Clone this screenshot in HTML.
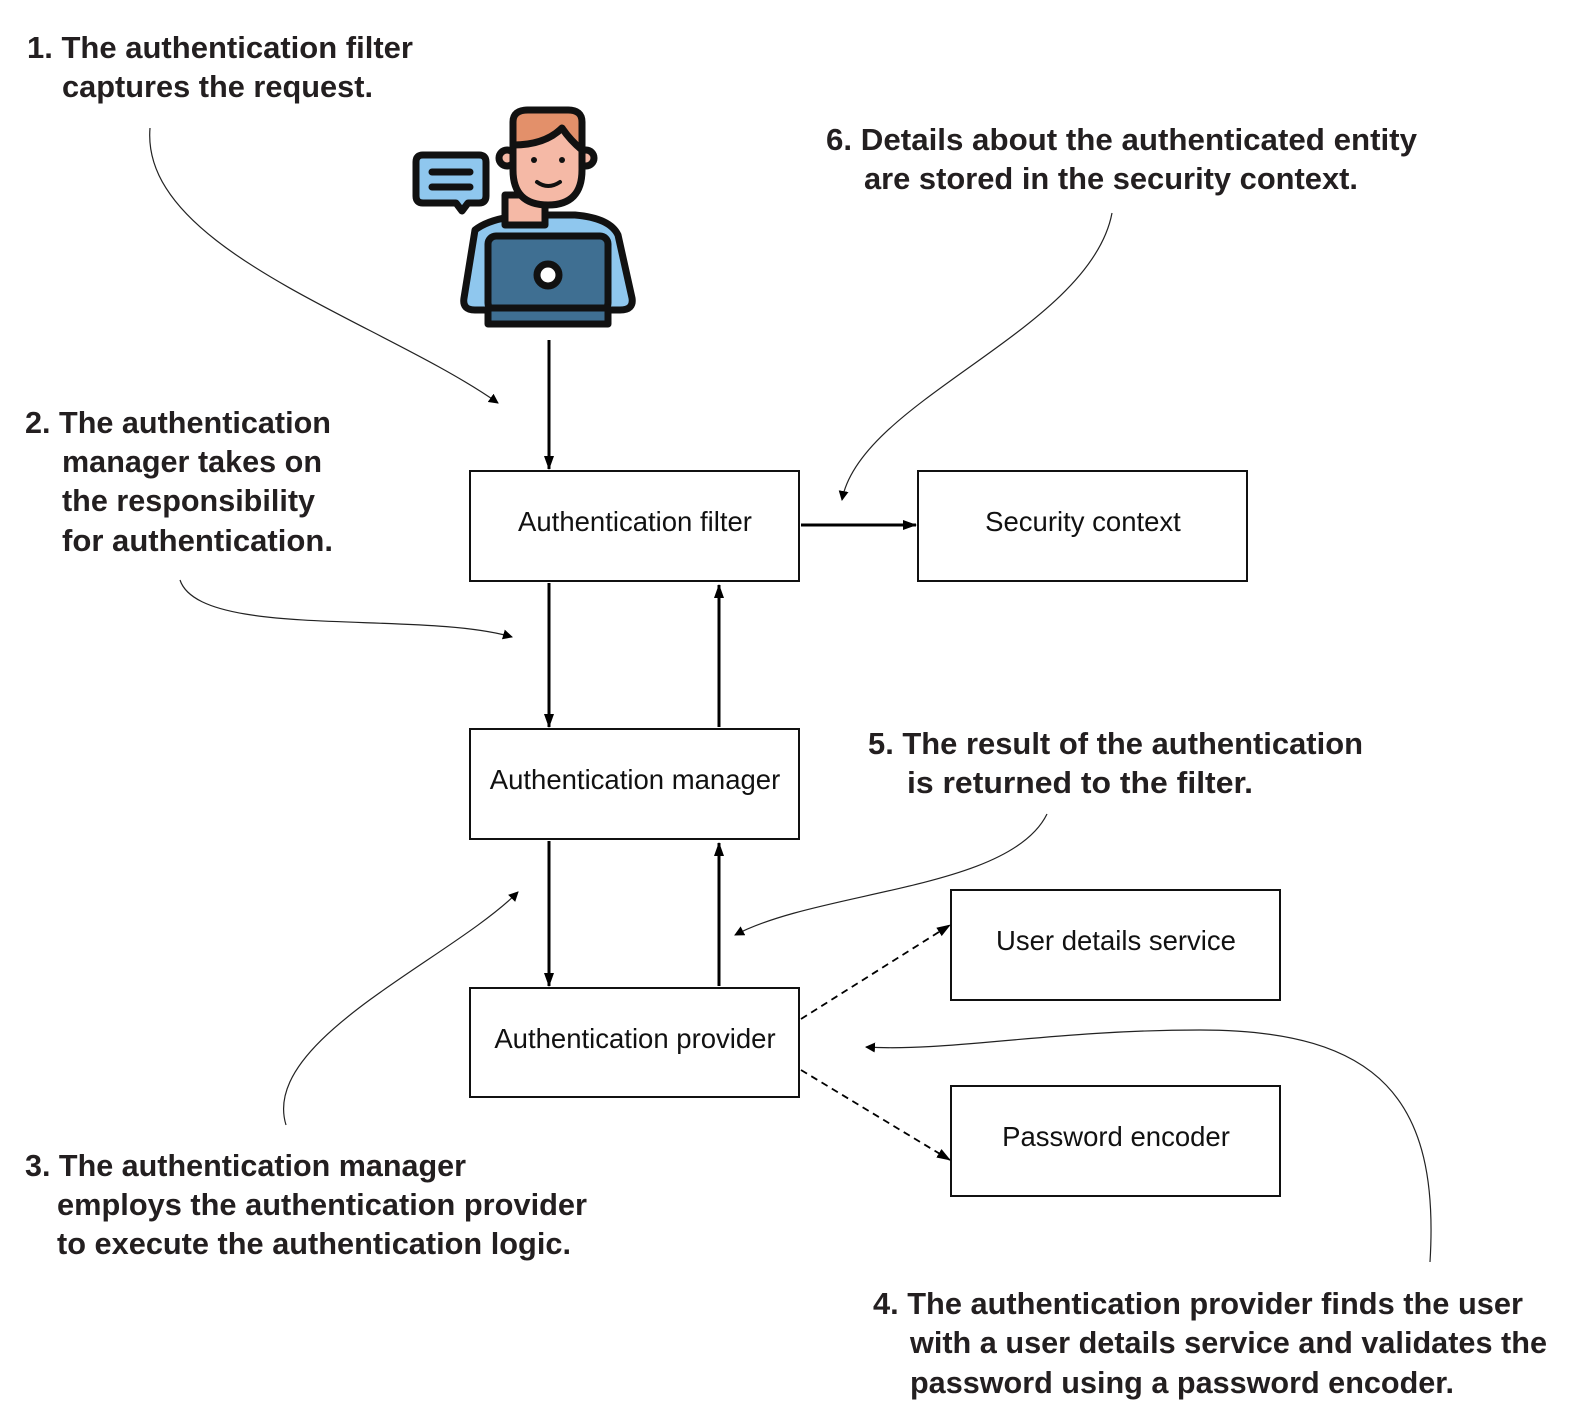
<!DOCTYPE html>
<html><head><meta charset="utf-8"><style>
html,body{margin:0;padding:0;background:#fff}
svg{display:block}
.t{font-family:"Liberation Sans",sans-serif;font-weight:bold;font-size:31px;fill:#231f20}
.b{font-family:"Liberation Sans",sans-serif;font-size:27.5px;fill:#111}
</style></head><body>
<svg width="1581" height="1422" viewBox="0 0 1581 1422" xmlns="http://www.w3.org/2000/svg">
<defs>
<marker id="a" markerWidth="10" markerHeight="10" refX="9" refY="5" orient="auto" markerUnits="userSpaceOnUse" viewBox="0 0 10 10"><path d="M0,0 L10,5 L0,10z" fill="#000"/></marker>
<marker id="s" markerWidth="14" markerHeight="14" refX="13" refY="7" orient="auto" markerUnits="userSpaceOnUse" viewBox="0 0 14 14"><path d="M0,2 L14,7 L0,12z" fill="#000"/></marker>
</defs>
<g fill="#fff" stroke="#111" stroke-width="2">
<rect x="470" y="471" width="329" height="110"/>
<rect x="918" y="471" width="329" height="110"/>
<rect x="470" y="729" width="329" height="110"/>
<rect x="470" y="988" width="329" height="109"/>
<rect x="951" y="890" width="329" height="110"/>
<rect x="951" y="1086" width="329" height="110"/>
</g>
<g class="b" text-anchor="middle">
<text x="635" y="531">Authentication filter</text>
<text x="1083" y="531">Security context</text>
<text x="635" y="789">Authentication manager</text>
<text x="635" y="1048">Authentication provider</text>
<text x="1116" y="950">User details service</text>
<text x="1116" y="1146">Password encoder</text>
</g>
<g stroke="#000" stroke-width="3" fill="none" marker-end="url(#s)">
<path d="M549,340 V469"/>
<path d="M549,583 V727"/>
<path d="M719,727 V585"/>
<path d="M549,841 V986"/>
<path d="M719,986 V843"/>
<path d="M801,525 H916"/>
</g>
<g stroke="#000" stroke-width="1.8" stroke-dasharray="7,5" fill="none" marker-end="url(#s)">
<path d="M801,1019 L950,925"/>
<path d="M801,1070 L950,1160"/>
</g>
<g stroke="#222" stroke-width="1.2" fill="none" marker-end="url(#a)">
<path d="M150,128 C140,250 380,320 498,403"/>
<path d="M1112,213 C1090,330 860,400 842,500"/>
<path d="M180,580 C200,640 420,610 512,637"/>
<path d="M1047,814 C1010,890 820,890 735,935"/>
<path d="M286,1125 C260,1040 450,960 518,892"/>
<path d="M1430,1262 C1440,1100 1380,1030 1200,1030 C1050,1030 950,1052 866,1047"/>
</g>
<g class="t">
<text x="27" y="58" textLength="386" lengthAdjust="spacingAndGlyphs">1. The authentication filter</text>
<text x="62" y="97" textLength="311" lengthAdjust="spacingAndGlyphs">captures the request.</text>
<text x="826" y="150" textLength="591" lengthAdjust="spacingAndGlyphs">6. Details about the authenticated entity</text>
<text x="864" y="189" textLength="494" lengthAdjust="spacingAndGlyphs">are stored in the security context.</text>
<text x="25" y="433" textLength="306" lengthAdjust="spacingAndGlyphs">2. The authentication</text>
<text x="62" y="472" textLength="260" lengthAdjust="spacingAndGlyphs">manager takes on</text>
<text x="62" y="511" textLength="253" lengthAdjust="spacingAndGlyphs">the responsibility</text>
<text x="62" y="551" textLength="271" lengthAdjust="spacingAndGlyphs">for authentication.</text>
<text x="868" y="754" textLength="495" lengthAdjust="spacingAndGlyphs">5. The result of the authentication</text>
<text x="907" y="793" textLength="346" lengthAdjust="spacingAndGlyphs">is returned to the filter.</text>
<text x="25" y="1176" textLength="441" lengthAdjust="spacingAndGlyphs">3. The authentication manager</text>
<text x="57" y="1215" textLength="530" lengthAdjust="spacingAndGlyphs">employs the authentication provider</text>
<text x="57" y="1254" textLength="514" lengthAdjust="spacingAndGlyphs">to execute the authentication logic.</text>
<text x="873" y="1314" textLength="650" lengthAdjust="spacingAndGlyphs">4. The authentication provider finds the user</text>
<text x="910" y="1353" textLength="637" lengthAdjust="spacingAndGlyphs">with a user details service and validates the</text>
<text x="910" y="1393" textLength="544" lengthAdjust="spacingAndGlyphs">password  using a password encoder.</text>
</g>
<g stroke="#111" stroke-width="7" stroke-linejoin="round" stroke-linecap="round">
<path d="M416,162 Q416,155 423,155 H479 Q486,155 486,162 V196 Q486,203 479,203 H468 L462,211 L456,203 H423 Q416,203 416,196Z" fill="#8fc7ee"/>
<path d="M432,172 H470 M432,187 H470" fill="none"/>
<path d="M475,230 Q490,218 525,215 H575 Q610,218 618,235 L632,298 Q634,310 620,310 H475 Q462,310 464,298Z" fill="#8fc7ee"/>
<rect x="505" y="195" width="40" height="30" fill="#f5b9a6"/>
<circle cx="507" cy="158" r="8" fill="#f5b9a6"/>
<circle cx="586" cy="158" r="8" fill="#f5b9a6"/>
<path d="M513,130 Q513,110 530,110 H565 Q582,110 582,130 V170 Q582,205 548,205 Q513,205 513,170Z" fill="#f5b9a6"/>
<path d="M513,145 V122 Q513,110 528,110 H568 Q582,110 582,122 V150 Q570,140 562,128 Q545,145 513,145Z" fill="#e3906a"/>
<rect x="488" y="236" width="120" height="75" rx="8" fill="#3f6f92"/>
<rect x="488" y="308" width="120" height="16" fill="#3f6f92"/>
<circle cx="548" cy="275" r="11" fill="#fff"/>
</g>
<g fill="#111"><circle cx="534" cy="160" r="3"/><circle cx="562" cy="160" r="3"/></g>
<path d="M537,182 Q548,190 560,182" stroke="#111" stroke-width="4" fill="none" stroke-linecap="round"/>
</svg>
</body></html>
